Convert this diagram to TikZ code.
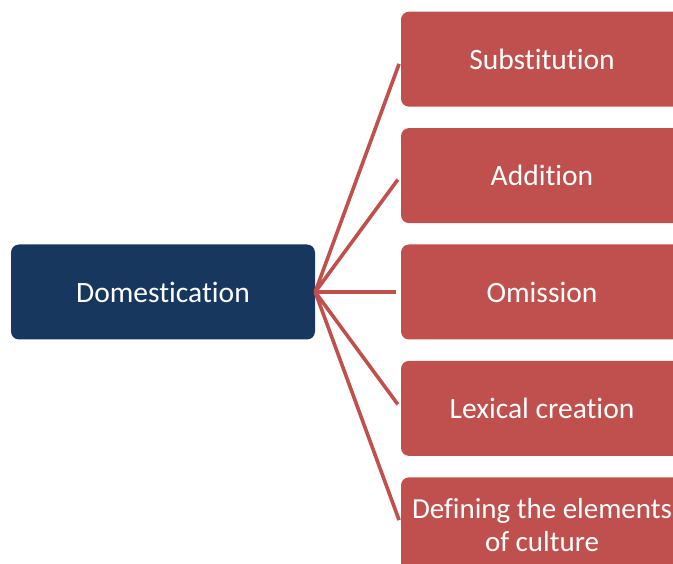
\documentclass[tikz,border=0pt]{standalone}
\usepackage{fontspec}
\setmainfont{Carlito}[Ligatures=NoCommon]
\usepackage{xcolor}
\usetikzlibrary{positioning}
\definecolor{navy}{HTML}{18375E}
\definecolor{brick}{HTML}{C0504D}
\tikzset{
	root/.style={fill=navy,text=white,rounded corners=8pt,minimum width=304pt,minimum height=95pt,inner sep=2pt,font=\fontsize{29.5}{33}\selectfont},%
	branch/.style={fill=brick,text=white,rounded corners=8pt,minimum width=282pt,minimum height=95pt,inner sep=2pt,align=center,font=\fontsize{29.5}{33}\selectfont},%
	spoke/.style={draw=brick,line width=3.6pt,shorten >=5pt},%
}
\def\gap{21pt}

\begin{document}
\begin{tikzpicture}[x=1pt,y=-1pt]
		\useasboundingbox (0,0) rectangle (673,564);
		\clip (0,0) rectangle (673,564);
		\node[root] (dom) at (163,292) {Domestication};
		\node[branch] (omission) at (542,292) {Omission};
		\node[branch,above=\gap of omission] (addition) {Addition};
		\node[branch,above=\gap of addition] (substitution) {Substitution};
		\node[branch,below=\gap of omission] (lexical) {Lexical creation};
		\node[branch,below=\gap of lexical,font=\fontsize{29}{33}\selectfont] (defining) {Defining the elements\\of culture};
		\draw[spoke] (dom.east) -- (substitution.west);
		\draw[spoke] (dom.east) -- (addition.west);
		\draw[spoke] (dom.east) -- (omission.west);
		\draw[spoke] (dom.east) -- (lexical.west);
		\draw[spoke] (dom.east) -- (defining.west);
	\end{tikzpicture}
\end{document}
